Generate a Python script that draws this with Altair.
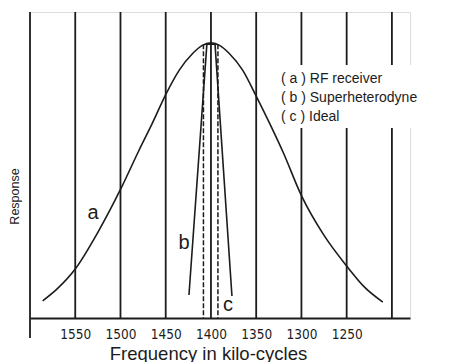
import altair as alt
import pandas as pd

# Curve (a) RF receiver: frequency (kc) and relative response
a_freq = [1586, 1570, 1550, 1525, 1500, 1480, 1465, 1450, 1435, 1420, 1410, 1400,
          1390, 1380, 1365, 1350, 1335, 1320, 1300, 1275, 1250, 1230, 1210]
a_resp = [0.056, 0.095, 0.160, 0.280, 0.420, 0.545, 0.635, 0.730, 0.810, 0.865, 0.890, 0.899,
          0.890, 0.865, 0.810, 0.725, 0.635, 0.540, 0.400, 0.270, 0.170, 0.100, 0.052]

# Curve (b) Superheterodyne
b_freq = [1424.3, 1404.5, 1395.5, 1376.8]
b_resp = [0.075, 0.895, 0.895, 0.072]

# Curve (c) Ideal: band edges
c_freq = [1408.3, 1392.3]
c_top = 0.895

grid_freq = [1600, 1550, 1500, 1450, 1400, 1350, 1300, 1250, 1200]
tick_labels = [1550, 1500, 1450, 1400, 1350, 1300, 1250]

legend_lines = ["( a ) RF receiver", "( b ) Superheterodyne", "( c ) Ideal"]

INK = "#1c1c1c"
W, H = 380, 306
SANS = "Liberation Sans, Arial, sans-serif"

xs = alt.Scale(domain=[1180, 1600], reverse=True, nice=False, zero=False)
ys = alt.Scale(domain=[0, 1], nice=False, zero=False)

grid = alt.Chart(pd.DataFrame({"f": grid_freq})).mark_rule(color=INK, strokeWidth=1.8).encode(
    x=alt.X("f:Q", scale=xs, axis=alt.Axis(
        values=tick_labels, format="d", grid=False, ticks=False, domain=True,
        domainColor=INK, domainWidth=1.8,
        labelFont="DejaVu Sans Condensed, Liberation Sans Narrow, sans-serif", labelFontSize=13.5,
        labelColor=INK, labelPadding=9,
        title="Frequency in kilo-cycles", titleFont=SANS,
        titleFontSize=18.5, titleFontWeight="normal", titleColor=INK,
        titleX=178, titleY=41, titleAlign="center", titleBaseline="alphabetic")),
    y=alt.value(0), y2=alt.value(H),
)

left_ext = alt.Chart(pd.DataFrame({"f": [grid_freq[0]]})).mark_rule(color=INK, strokeWidth=1.8).encode(
    x=alt.X("f:Q", scale=xs), y=alt.value(H), y2=alt.value(H + 20))

yaxis = alt.Chart(pd.DataFrame({"r": [0, 1]})).mark_point(opacity=0).encode(
    y=alt.Y("r:Q", scale=ys, axis=alt.Axis(
        domain=False, ticks=False, labels=False, grid=False,
        title="Response", titleFont=SANS, titleFontSize=12.5,
        titleFontWeight="normal", titleColor=INK, titleX=-16, titleY=184,
        titleAngle=270, titleAlign="center", titleBaseline="middle")),
    x=alt.value(-100))

box = alt.Chart(pd.DataFrame({"k": [0]})).mark_rect(color="white").encode(
    x=alt.value(248), x2=alt.value(400), y=alt.value(53), y2=alt.value(116))

line_a = alt.Chart(pd.DataFrame({"f": a_freq, "r": a_resp})).mark_line(
    color=INK, strokeWidth=1.6, interpolate="monotone").encode(
    x=alt.X("f:Q", scale=xs), y=alt.Y("r:Q", scale=ys), order="f:Q")

line_b = alt.Chart(pd.DataFrame({"f": b_freq, "r": b_resp, "o": list(range(len(b_freq)))})).mark_line(
    color=INK, strokeWidth=1.6).encode(
    x=alt.X("f:Q", scale=xs), y=alt.Y("r:Q", scale=ys), order="o:Q")

line_c = alt.Chart(pd.DataFrame({"f": c_freq, "top": [c_top] * len(c_freq), "bot": [0] * len(c_freq)})).mark_rule(
    color=INK, strokeWidth=1.5, strokeDash=[5, 2]).encode(
    x=alt.X("f:Q", scale=xs), y=alt.Y("top:Q", scale=ys), y2="bot:Q")

def label(txt, x, y, size, font=SANS, align="center"):
    return alt.Chart(pd.DataFrame({"t": [txt]})).mark_text(
        font=font, fontSize=size, color=INK, align=align, baseline="middle").encode(
        text="t:N", x=alt.value(x), y=alt.value(y))

legend = [label(t, 251, 67 + 19 * i, 14, align="left") for i, t in enumerate(legend_lines)]
curve_labels = [label("a", 63, 201, 20), label("b", 154, 231, 20), label("c", 198, 293, 20)]

chart = alt.layer(grid, left_ext, yaxis, box, line_a, line_b, line_c, *legend, *curve_labels).properties(
    width=W, height=H, autosize=alt.AutoSizeParams(type="none"),
    padding={"left": 22, "top": 4, "right": 40, "bottom": 44},
).configure_view(stroke=None).configure(background="white")

chart.save("out.html", embed_options={"renderer": "svg", "actions": False})
